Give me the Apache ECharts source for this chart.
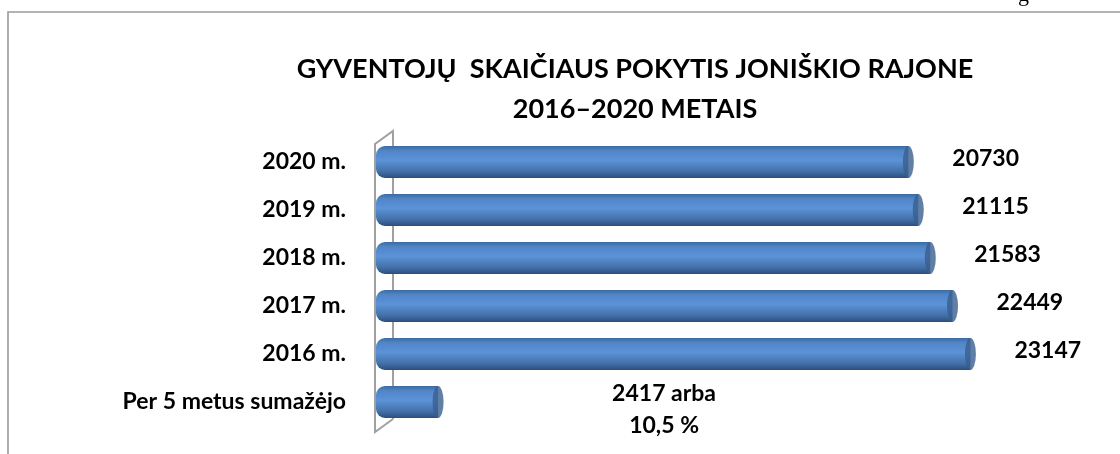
<!DOCTYPE html>
<html>
<head>
<meta charset="utf-8">
<script src="https://cdn.jsdelivr.net/npm/echarts@6/dist/echarts.min.js"></script>
<style>
  html, body { margin: 0; padding: 0; background: #fff; }
  #chart { width: 1120px; height: 454px; }
</style>
</head>
<body>
<div id="chart"></div>
<script>
// categories listed bottom to top (category axis starts at the bottom)
const categories = ["Per 5 metus sumažėjo", "2016 m.", "2017 m.", "2018 m.", "2019 m.", "2020 m."];
const population = [2417, 23147, 22449, 21583, 21115, 20730];
const changeText = ["2417 arba", "10,5 %"];
const titleLines = ["GYVENTOJŲ  SKAIČIAUS POKYTIS JONIŠKIO RAJONE", "2016–2020 METAIS"];

const font = "Lato, 'Open Sans', sans-serif";

const chart = echarts.init(document.getElementById("chart"));

const barColor = new echarts.graphic.LinearGradient(0, 0, 0, 1, [
  { offset: 0, color: "#3c6aa3" },
  { offset: 0.15, color: "#5086c7" },
  { offset: 0.45, color: "#5c93d6" },
  { offset: 0.8, color: "#426fa8" },
  { offset: 1, color: "#2c4f7c" }
]);

const barData = population.map((v, i) => {
  if (i === 0) {
    return {
      value: v,
      label: {
        formatter: changeText.join("\n"),
        align: "center",
        distance: 226,
        offset: [0, 8],
        lineHeight: 32
      }
    };
  }
  return v;
});

chart.setOption({
  animation: false,
  title: {
    text: titleLines.join("\n"),
    left: 630,
    textAlign: "center",
    top: 44,
    textStyle: {
      fontFamily: font,
      fontSize: 27,
      fontWeight: "bold",
      color: "#000",
      lineHeight: 40
    }
  },
  grid: { left: 376, right: 102, top: 138, bottom: 28 },
  xAxis: {
    type: "value",
    min: 0,
    max: 25000,
    show: false
  },
  yAxis: {
    type: "category",
    data: categories,
    axisLine: { show: false },
    axisTick: { show: false },
    splitLine: { show: false },
    axisLabel: {
      margin: 30,
      fontFamily: font,
      fontSize: 23,
      fontWeight: "bold",
      color: "#000"
    }
  },
  graphic: [
    {
      type: "rect",
      shape: { x: 8, y: 12, width: 1200, height: 600 },
      style: { fill: "none", stroke: "#9a9a9a", lineWidth: 1.6 }
    },
    {
      type: "text",
      x: 1018,
      y: -16,
      style: { text: "g", font: "22px 'Liberation Serif', serif", fill: "#000" }
    },
    {
      type: "polyline",
      shape: { points: [[393, 419], [375, 432], [375, 144], [393, 131], [393, 419]] },
      style: { fill: "none", stroke: "#a0a0a0", lineWidth: 2 }
    }
  ],
  series: [
    {
      type: "bar",
      data: barData,
      barWidth: 32,
      itemStyle: {
        color: barColor,
        borderRadius: [9, 0, 0, 9]
      },
      label: {
        show: true,
        position: "right",
        distance: 44,
        offset: [0, -3],
        fontFamily: font,
        fontSize: 23,
        fontWeight: "bold",
        color: "#000"
      },
      z: 3
    },
    {
      // end caps of the cylinders
      type: "scatter",
      data: population.map((v, i) => [v, i]),
      symbol: "circle",
      symbolSize: [11, 32],
      itemStyle: { color: "#395e8e" },
      silent: true,
      z: 4
    }
  ]
});
</script>
</body>
</html>
